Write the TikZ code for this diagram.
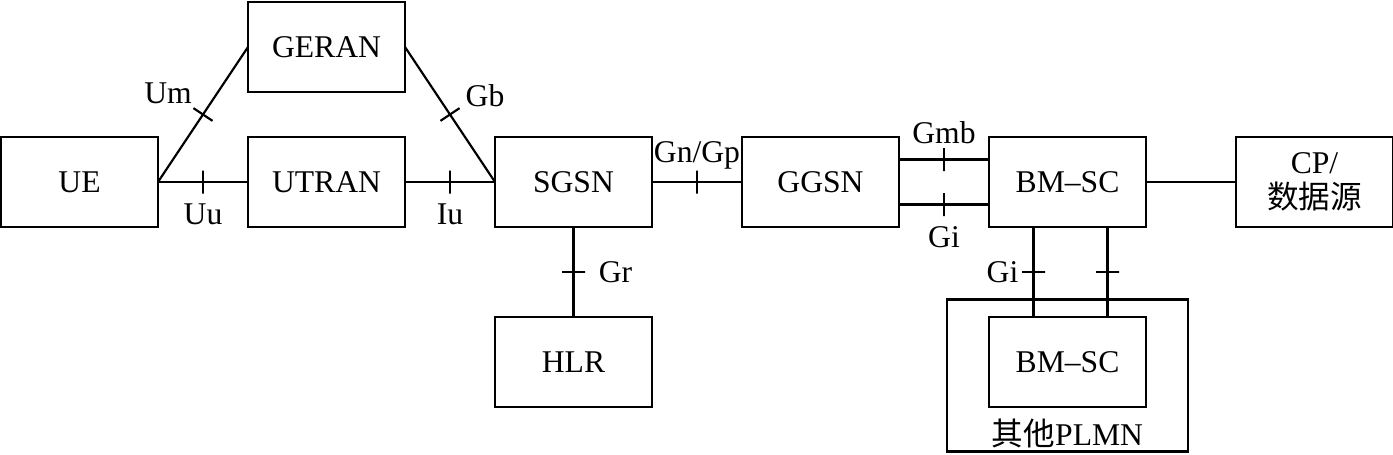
\documentclass[tikz,border=0pt]{standalone}
\usepackage{fontspec}
\setmainfont{Liberation Serif}
\newfontfamily\cjkfont{Noto Sans CJK SC}
\usetikzlibrary{positioning}

\begin{document}
\begin{tikzpicture}[
    node distance=18mm,
    every node/.style={font=\fontsize{18}{20}\selectfont},
    box/.style={draw, line width=1.2pt, minimum width=31.4mm,
      minimum height=18mm, inner sep=0pt, outer sep=0pt, align=center},
    link/.style={line width=1.2pt},
    tickmark/.style={draw, line width=1.2pt, sloped, allow upside down,
      minimum width=0pt, minimum height=4.6mm, inner sep=0pt}
  ]
  \useasboundingbox (0,0) rectangle (27.86,-9.08);

  \node[box] (ue) at (1.59,-3.64) {UE};
  \node[box, right=of ue] (utran) {UTRAN};
  \node[box, above=9mm of utran] (geran) {GERAN};
  \node[box, right=of utran] (sgsn) {SGSN};
  \node[box, right=of sgsn] (ggsn) {GGSN};
  \node[box, right=of ggsn] (bmsc) {BM--SC};
  \node[box, right=of bmsc] (cp) {CP/\\{\cjkfont 数据源}};
  \node[box, below=of sgsn] (hlr) {HLR};
  \node[box, below=of bmsc] (bmsc2) {BM--SC};

  % other PLMN frame
  \node[draw, line width=1.2pt, minimum width=48.2mm, minimum height=30.4mm,
    inner sep=0pt] (plmn) at ([yshift=-2.7mm]bmsc2.center) {};
  \node[anchor=base] (plmntext) at ([yshift=1.4mm]plmn.south)
    {{\cjkfont 其他}PLMN};

  \draw[link] (ue.east) -- node[tickmark]{}
    node[xshift=-7mm, yshift=4.2mm]{Um} (geran.west);
  \draw[link] (geran.east) -- node[tickmark]{}
    node[xshift=7mm, yshift=3.8mm]{Gb} (sgsn.west);
  \draw[link] (ue.east) -- node[tickmark]{}
    node[yshift=-6.4mm]{Uu} (utran.west);
  \draw[link] (utran) -- node[tickmark]{}
    node[yshift=-6.4mm]{Iu} (sgsn.west);
  \draw[link] (sgsn) -- node[tickmark]{}
    node[yshift=5.4mm]{Gn/Gp} (ggsn);
  \draw[link] ([yshift=4.5mm]ggsn.east) -- node[tickmark]{}
    node[yshift=5.4mm]{Gmb} ([yshift=4.5mm]bmsc.west);
  \draw[link] ([yshift=-4.5mm]ggsn.east) -- node[tickmark]{}
    node[yshift=-6.6mm]{Gi} ([yshift=-4.5mm]bmsc.west);
  \draw[link] (bmsc) -- (cp);
  \draw[link] (sgsn) -- node[tickmark]{}
    node[xshift=8.4mm]{Gr} (hlr);
  \draw[link] ([xshift=-6.8mm]bmsc.south) -- node[tickmark]{}
    node[xshift=-6.2mm]{Gi} ([xshift=-6.8mm]bmsc2.north);
  \draw[link] ([xshift=8mm]bmsc.south) -- node[tickmark]{}
    ([xshift=8mm]bmsc2.north);
\end{tikzpicture}
\end{document}
